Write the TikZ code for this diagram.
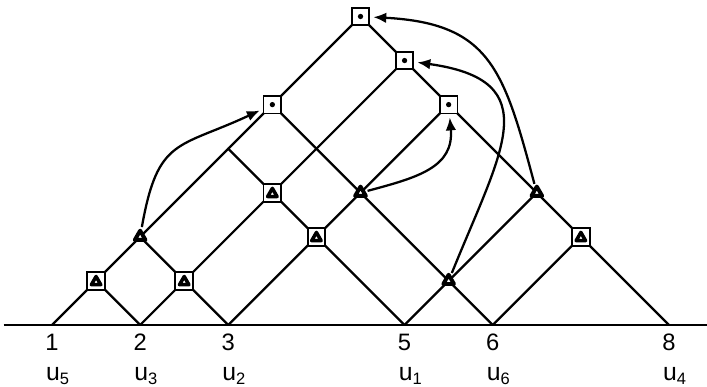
\documentclass[tikz,border=0pt]{standalone}
\usepackage{fontspec}
\setmainfont{Liberation Sans}
\usetikzlibrary{arrows.meta,calc,shapes.geometric,backgrounds}

\begin{document}
\begin{tikzpicture}[x=1.5cm, y=1.5cm,
  ln/.style={line width=1.1pt, line cap=round},
  arr/.style={-{Latex[length=2.2mm,width=1.8mm]}, line width=1.1pt, shorten <=1pt, shorten >=1.5pt},
  sq/.style={draw, fill=white, line width=0.9pt, minimum size=0.3cm, inner sep=0pt},
  sqdot/.style={sq, path picture={\fill[black] (path picture bounding box.center) circle[radius=0.045cm];}},
  sqtri/.style={sq, path picture={\draw[line width=1.7pt, fill=white, line join=round]
      ($(path picture bounding box.center)+(-0.08cm,-0.065cm)$) -- ++(0.16cm,0cm) -- ++(-0.08cm,0.14cm) -- cycle;}},
  tri/.style={regular polygon, regular polygon sides=3, draw, fill=white, line width=1.9pt,
      line join=round, inner sep=0pt, minimum size=0.21cm},
  num/.style={font=\fontsize{11.5}{13}\selectfont},
  ulab/.style={font=\fontsize{12}{14}\selectfont}]
\useasboundingbox (-0.59,-0.703) rectangle (7.431,3.687);

% base points and labels
\foreach \n/\x/\u in {1/0/5,2/1/3,3/2/2,5/4/1,6/5/6,8/7/4}{
  \coordinate (b\n) at (\x,0);
  \node[num] (n\n) at (\x,-0.2) {\n};
  \node[ulab] (u\n) at (\x+0.07,-0.58) {u\textsubscript{\u}};
}
\coordinate (axl) at (-0.55,0);
\coordinate (axr) at (7.431,0);

% marks where the lines meet
\node[sqdot] (d1) at (3.5,3.5) {};
\node[sqdot] (d2) at (4,3) {};
\node[sqdot] (d3) at (4.5,2.5) {};
\node[sqdot] (d4) at (2.5,2.5) {};
\node[sqtri] (q1) at (0.5,0.5) {};
\node[sqtri] (q2) at (1.5,0.5) {};
\node[sqtri] (q3) at (2.5,1.5) {};
\node[sqtri] (q4) at (3,1) {};
\node[sqtri] (q5) at (6,1) {};
\node[tri] (t1) at (1,1) {};
\node[tri] (t2) at (3.5,1.5) {};
\node[tri] (t3) at (4.5,0.5) {};
\node[tri] (t4) at (5.5,1.5) {};
\coordinate (j1) at (2,2);

\begin{scope}[on background layer]
\draw[line width=1.3pt] (axl) -- (axr);
\foreach \a/\b in {b1/d1,b8/d1,b2/d2,b3/d3,b5/t4,b6/q5,b2/q1,b3/t1,b5/j1,b6/d4}{
  \draw[ln] (\a) -- (\b.center);}
\end{scope}

% pointers
\draw[arr] (t1) to[out=80, in=205, looseness=1.4] (d4);
\draw[arr] (t2) to[out=15, in=-85, looseness=1.2] (d3);
\draw[arr] (t3) to[out=68, in=-8, looseness=1.6] (d2);
\draw[arr] (t4) to[out=105, in=-3, looseness=1.3] (d1);
\end{tikzpicture}
\end{document}
